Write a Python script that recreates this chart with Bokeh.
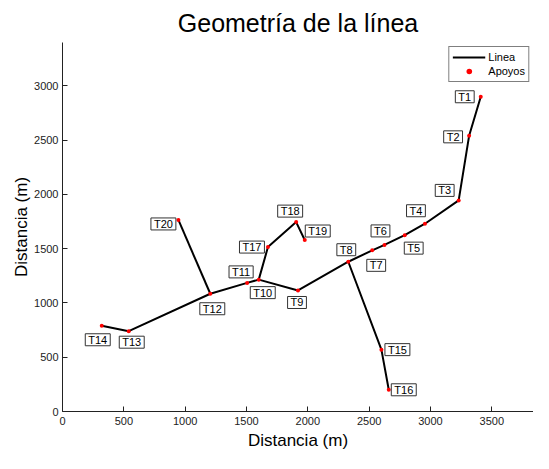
from bokeh.plotting import figure
from bokeh.models import Range1d, ColumnDataSource, Legend, LegendItem, FixedTicker
from bokeh.core.properties import value
from bokeh.embed import file_html
from bokeh.resources import INLINE

# ---- data ----
names = ["T1", "T2", "T3", "T4", "T5", "T6", "T7", "T8", "T9", "T10",
         "T11", "T12", "T13", "T14", "T15", "T16", "T17", "T18", "T19", "T20"]
xs = [3410, 3315, 3230, 2955, 2790, 2625, 2525, 2330, 1920, 1600,
      1505, 1205, 540, 320, 2600, 2660, 1675, 1905, 1975, 945]
ys = [2900, 2540, 1945, 1730, 1625, 1535, 1485, 1380, 1115, 1215,
      1185, 1085, 740, 790, 570, 200, 1515, 1745, 1580, 1765]
# line topology (tower numbers)
paths = [[1, 2, 3, 4, 5, 6, 7, 8, 9, 10, 11, 12, 13, 14],
         [8, 15, 16],
         [10, 17, 18, 19],
         [12, 20]]
x_ticks = [0, 500, 1000, 1500, 2000, 2500, 3000, 3500]
y_ticks = [0, 500, 1000, 1500, 2000, 2500, 3000]

# label placement (screen pixels)
lab_dx = [-16, -16, -14, -9, 9, -4, 4, -2, -1, 4,
          -6, 2, 3, -4, 16, 15, -16, -6, 13, -15]
lab_dy = [0, 1, -10, -13, 13, -14, 15, -12, 12, 13,
          -11, 15, 11, 14, 0, 0, 0, -11, -9, 4]

FONT = "Liberation Sans"

p = figure(width=533, height=453, output_backend="svg", toolbar_location=None,
           x_range=Range1d(0, 3840), y_range=Range1d(0, 3400),
           min_border_left=62, min_border_right=0, min_border_top=42, min_border_bottom=42)
p.outline_line_color = None
p.xgrid.visible = False
p.ygrid.visible = False

p.title.text = "Geometría de la línea"
p.title.text_font = FONT
p.title.text_font_size = "25px"
p.title.text_font_style = "normal"
p.title.align = "center"
p.title.text_color = "black"
p.title.standoff = 12

for ax in (p.xaxis[0], p.yaxis[0]):
    ax.axis_label = "Distancia (m)"
    ax.axis_label_text_font = FONT
    ax.axis_label_text_font_size = "17px"
    ax.axis_label_text_font_style = "normal"
    ax.axis_label_text_color = "black"
    ax.major_label_text_font = FONT
    ax.major_label_text_font_size = "11px"
    ax.major_label_text_color = "#222222"
    ax.major_tick_in = 5
    ax.major_tick_out = 0
    ax.minor_tick_in = 0
    ax.minor_tick_out = 0
    ax.axis_line_color = "#222222"
    ax.major_tick_line_color = "#222222"
p.xaxis[0].ticker = FixedTicker(ticks=x_ticks)
p.yaxis[0].ticker = FixedTicker(ticks=y_ticks)
p.xaxis[0].major_label_standoff = 5
p.xaxis[0].axis_label_standoff = 3
p.yaxis[0].major_label_standoff = 4
p.yaxis[0].axis_label_standoff = 0

line_x = [[xs[i - 1] for i in path] for path in paths]
line_y = [[ys[i - 1] for i in path] for path in paths]
lr = p.multi_line(line_x, line_y, line_color="black", line_width=2)

src = ColumnDataSource(dict(x=xs, y=ys, name=names, dx=lab_dx, dy=lab_dy))
pr = p.scatter("x", "y", source=src, size=4, color="red", line_color=None)

p.text("x", "y", text="name", source=src, x_offset="dx", y_offset="dy",
       text_align="center", text_baseline="middle",
       text_font=value(FONT), text_font_size="11px", text_color="black",
       border_line_color="#333333", border_line_width=1, padding=(3, 0))

legend = Legend(items=[LegendItem(label="Linea", renderers=[lr]),
                       LegendItem(label="Apoyos", renderers=[pr])],
                location="top_right")
legend.label_text_font = FONT
legend.label_text_font_size = "11px"
legend.label_text_color = "black"
legend.border_line_color = "black"
legend.border_line_width = 1
legend.padding = 3
legend.spacing = 0
legend.margin = 4
legend.glyph_width = 33
legend.glyph_height = 14
legend.label_height = 14
legend.label_standoff = 3
legend.label_text_baseline = "middle"
p.add_layout(legend)

open("out.html", "w").write(file_html(p, INLINE))
